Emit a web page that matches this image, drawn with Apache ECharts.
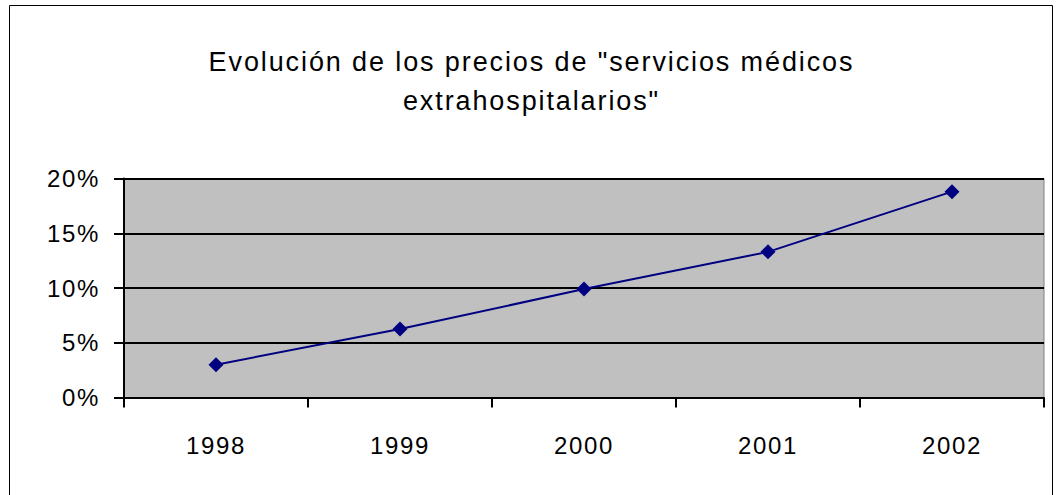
<!DOCTYPE html>
<html><head><meta charset="utf-8">
<script src="https://cdn.jsdelivr.net/npm/echarts@6/dist/echarts.min.js"></script>
<style>html,body{margin:0;padding:0;background:#fff}#c{width:1063px;height:495px}
#c svg text{letter-spacing:0.07em}</style>
</head><body><div id="c"></div>
<script>
const categories = ['1998', '1999', '2000', '2001', '2002'];
const values = [3.0, 6.25, 9.9, 13.3, 18.8];
const yTicks = [0, 5, 10, 15, 20];
const titleText = 'Evolución de los precios de "servicios médicos\nextrahospitalarios"';

const FONT = 'Liberation Sans, Arial, sans-serif';
const chart = echarts.init(document.getElementById('c'), null, {renderer: 'svg'});
chart.setOption({
  animation: false,
  backgroundColor: '#ffffff',
  graphic: [{
    type: 'rect', z: -10, silent: true,
    shape: {x: 9.5, y: 5.5, width: 1043, height: 500},
    style: {fill: '#ffffff', stroke: '#000000', lineWidth: 1}
  }],
  title: {
    text: titleText, left: 'center', top: 37,
    textStyle: {fontFamily: FONT, fontSize: 27, fontWeight: 'normal', color: '#000', lineHeight: 39}
  },
  grid: {left: 124, right: 19, top: 178.5, bottom: 97.5, show: true, backgroundColor: '#C0C0C0', borderColor: '#808080', borderWidth: 1, containLabel: false},
  xAxis: {
    type: 'category', data: categories, boundaryGap: true,
    axisLine: {lineStyle: {color: '#000', width: 2}},
    axisTick: {show: true, length: 10, inside: false, lineStyle: {color: '#000', width: 2}, alignWithLabel: false},
    axisLabel: {fontFamily: FONT, fontSize: 24, color: '#000', margin: 36}
  },
  yAxis: {
    type: 'value', min: yTicks[0], max: yTicks[yTicks.length - 1], interval: 5,
    axisLine: {show: true, lineStyle: {color: '#000', width: 2}},
    axisTick: {show: true, length: 10, lineStyle: {color: '#000', width: 2}},
    splitLine: {show: true, lineStyle: {color: '#000', width: 2}},
    axisLabel: {formatter: v => v + '%', fontFamily: FONT, fontSize: 24, color: '#000', margin: 24, padding: [10, 0, 0, 0]}
  },
  series: [{
    type: 'line', data: values,
    symbol: 'diamond', symbolSize: 15,
    lineStyle: {color: '#000080', width: 2},
    itemStyle: {color: '#000080'}
  }]
});
</script></body></html>
